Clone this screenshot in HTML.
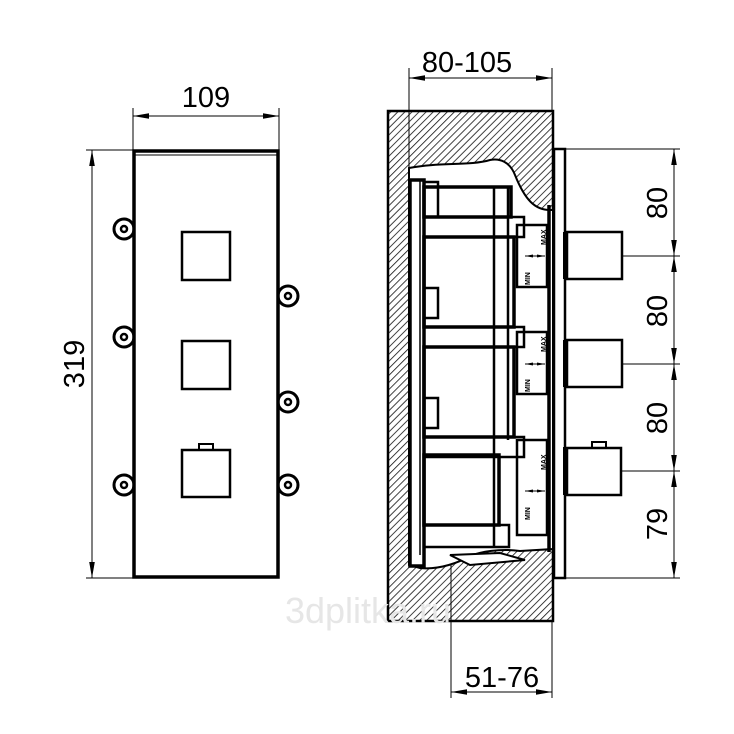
<!DOCTYPE html>
<html><head><meta charset="utf-8"><style>
html,body{margin:0;padding:0;background:#fff}
svg{display:block}
text{font-family:"Liberation Sans",sans-serif;fill:#000}
</style></head><body>
<svg width="734" height="734" viewBox="0 0 734 734" xmlns="http://www.w3.org/2000/svg">
<defs>
<pattern id="h" width="5" height="5" patternUnits="userSpaceOnUse" patternTransform="rotate(45)">
<rect width="5" height="5" fill="#fff"/><line x1="0" y1="0" x2="0" y2="5" stroke="#111" stroke-width="1.6"/>
</pattern>
<marker id="a" viewBox="0 0 10 10" refX="10" refY="5" markerWidth="8" markerHeight="5" markerUnits="userSpaceOnUse" orient="auto-start-reverse" preserveAspectRatio="none"><path d="M0,2 L10,5 L0,8z" fill="#000"/></marker>
<marker id="b" viewBox="0 0 10 10" refX="10" refY="5" markerWidth="16" markerHeight="7" markerUnits="userSpaceOnUse" orient="auto-start-reverse" preserveAspectRatio="none"><path d="M0,1 L10,5 L0,9z" fill="#000"/></marker>
</defs>

<g stroke="#000" fill="none">
<line x1="133" y1="108" x2="133" y2="150" stroke-width="1"/>
<line x1="279" y1="108" x2="279" y2="150" stroke-width="1"/>
<line x1="133" y1="116" x2="279" y2="116" stroke-width="1" marker-start="url(#b)" marker-end="url(#b)"/>
<line x1="86" y1="150" x2="133" y2="150" stroke-width="1"/>
<line x1="86" y1="578" x2="133" y2="578" stroke-width="1"/>
<line x1="92" y1="150" x2="92" y2="578" stroke-width="1" marker-start="url(#b)" marker-end="url(#b)"/>
<g stroke-width="3" fill="#fff">
<circle cx="124" cy="229" r="10"/><circle cx="124" cy="337" r="10"/><circle cx="124" cy="485" r="10"/>
<circle cx="288" cy="296" r="10"/><circle cx="288" cy="402" r="10"/><circle cx="288" cy="485" r="10"/>
</g>
<rect x="134" y="151" width="144" height="426" stroke-width="3.5" fill="#fff"/>
<line x1="134" y1="155" x2="278" y2="155" stroke-width="1"/>
<g stroke-width="2.5">
<circle cx="124" cy="229" r="3"/><circle cx="124" cy="337" r="3"/><circle cx="124" cy="485" r="3"/>
<circle cx="288" cy="296" r="3"/><circle cx="288" cy="402" r="3"/><circle cx="288" cy="485" r="3"/>
</g>
<rect x="182" y="232" width="48" height="48" stroke-width="2.5"/>
<rect x="182" y="341" width="48" height="48" stroke-width="2.5"/>
<rect x="182" y="450" width="48" height="47" stroke-width="2.5"/>
<rect x="199" y="444" width="14" height="6" stroke-width="2"/>
</g>
<text x="206" y="107" font-size="29" text-anchor="middle">109</text>
<text transform="translate(84,364) rotate(-90)" font-size="29" text-anchor="middle">319</text>

<g stroke="#000" fill="none">
<rect x="388" y="111" width="165" height="510" fill="url(#h)" stroke-width="2.5"/>
<path d="M409,168 C440,162 470,166 490,160 C500,158 510,162 515,175 C525,200 535,210 550,210 L553,210 L553,549 L520,551 C500,548 480,552 470,556 C460,562 440,570 420,568 L409,565 Z" fill="#fff" stroke-width="2"/>
<line x1="409" y1="68" x2="409" y2="170" stroke-width="1"/>
<line x1="552" y1="68" x2="552" y2="111" stroke-width="1"/>
<line x1="409" y1="78" x2="552" y2="78" stroke-width="1" marker-start="url(#b)" marker-end="url(#b)"/>
<line x1="451" y1="565" x2="451" y2="698" stroke-width="1"/>
<line x1="552" y1="621" x2="552" y2="698" stroke-width="1"/>
<line x1="451" y1="692" x2="552" y2="692" stroke-width="1" marker-start="url(#b)" marker-end="url(#b)"/>
<g stroke-width="3.5">
<rect x="410" y="180" width="14" height="386"/>
<line x1="420" y1="180" x2="420" y2="555" stroke-width="1.5"/>
<rect x="424" y="182" width="14" height="35" stroke-width="2.5"/>
<rect x="424" y="288" width="14" height="30" stroke-width="2.5"/>
<rect x="424" y="398" width="14" height="30" stroke-width="2.5"/>
<rect x="424" y="187" width="87" height="30"/>
<rect x="424" y="217" width="100" height="20" stroke-width="2.5"/>
<rect x="424" y="237" width="90" height="90"/>
<rect x="424" y="327" width="100" height="20" stroke-width="2.5"/>
<rect x="424" y="347" width="90" height="90"/>
<rect x="424" y="437" width="100" height="20" stroke-width="2.5"/>
<rect x="424" y="455" width="75" height="70"/>
<rect x="424" y="525" width="85" height="22" stroke-width="2.5"/>
<line x1="494" y1="187" x2="494" y2="547" stroke-width="2.5"/>
<line x1="508" y1="187" x2="508" y2="440" stroke-width="2.5"/>
<rect x="517" y="225" width="30" height="62" stroke-width="2.5"/>
<rect x="517" y="332" width="30" height="62" stroke-width="2.5"/>
<rect x="517" y="440" width="30" height="95" stroke-width="2.5"/>
<line x1="549" y1="205" x2="549" y2="552" stroke-width="3.5"/>
<path d="M450,555 L500,553 L525,560 L470,565 Z" fill="#fff" stroke-width="2"/>
</g>
<g stroke-width="1">
<line x1="525" y1="256" x2="545" y2="256" marker-start="url(#a)" marker-end="url(#a)"/>
<line x1="525" y1="364" x2="545" y2="364" marker-start="url(#a)" marker-end="url(#a)"/>
<line x1="525" y1="491" x2="545" y2="491" marker-start="url(#a)" marker-end="url(#a)"/>
</g>
<rect x="554" y="149" width="11" height="429" stroke-width="2.5" fill="#fff"/>
<line x1="565" y1="232" x2="565" y2="279" stroke-width="4"/>
<line x1="565" y1="340" x2="565" y2="387" stroke-width="4"/>
<line x1="565" y1="447" x2="565" y2="495" stroke-width="4"/>
<rect x="567" y="232" width="55" height="47" stroke-width="2.5"/>
<rect x="567" y="340" width="55" height="47" stroke-width="2.5"/>
<rect x="567" y="448" width="54" height="47" stroke-width="2.5"/>
<rect x="592" y="442" width="14" height="6" stroke-width="2"/>
<g stroke-width="1">
<line x1="565" y1="149" x2="680" y2="149"/>
<line x1="622" y1="256" x2="680" y2="256"/>
<line x1="622" y1="364" x2="680" y2="364"/>
<line x1="621" y1="471" x2="680" y2="471"/>
<line x1="565" y1="578" x2="680" y2="578"/>
<line x1="674" y1="149" x2="674" y2="256" marker-start="url(#b)" marker-end="url(#b)"/>
<line x1="674" y1="256" x2="674" y2="364" marker-start="url(#b)" marker-end="url(#b)"/>
<line x1="674" y1="364" x2="674" y2="471" marker-start="url(#b)" marker-end="url(#b)"/>
<line x1="674" y1="471" x2="674" y2="578" marker-start="url(#b)" marker-end="url(#b)"/>
</g>
</g>
<g font-size="7" font-weight="bold">
<text transform="translate(530,285) rotate(-90)">MIN</text>
<text transform="translate(546,245) rotate(-90)">MAX</text>
<text transform="translate(530,392) rotate(-90)">MIN</text>
<text transform="translate(546,352) rotate(-90)">MAX</text>
<text transform="translate(530,520) rotate(-90)">MIN</text>
<text transform="translate(546,470) rotate(-90)">MAX</text>
</g>
<text x="467" y="72" font-size="29" text-anchor="middle">80-105</text>
<text x="502" y="687" font-size="29" text-anchor="middle">51-76</text>
<g font-size="29" text-anchor="middle">
<text transform="translate(667,203) rotate(-90)">80</text>
<text transform="translate(667,311) rotate(-90)">80</text>
<text transform="translate(667,418) rotate(-90)">80</text>
<text transform="translate(667,524) rotate(-90)">79</text>
</g>
<text x="368" y="623" font-size="36" text-anchor="middle" style="fill:#e6e6e6">3dplitka.ru</text>
</svg>
</body></html>
